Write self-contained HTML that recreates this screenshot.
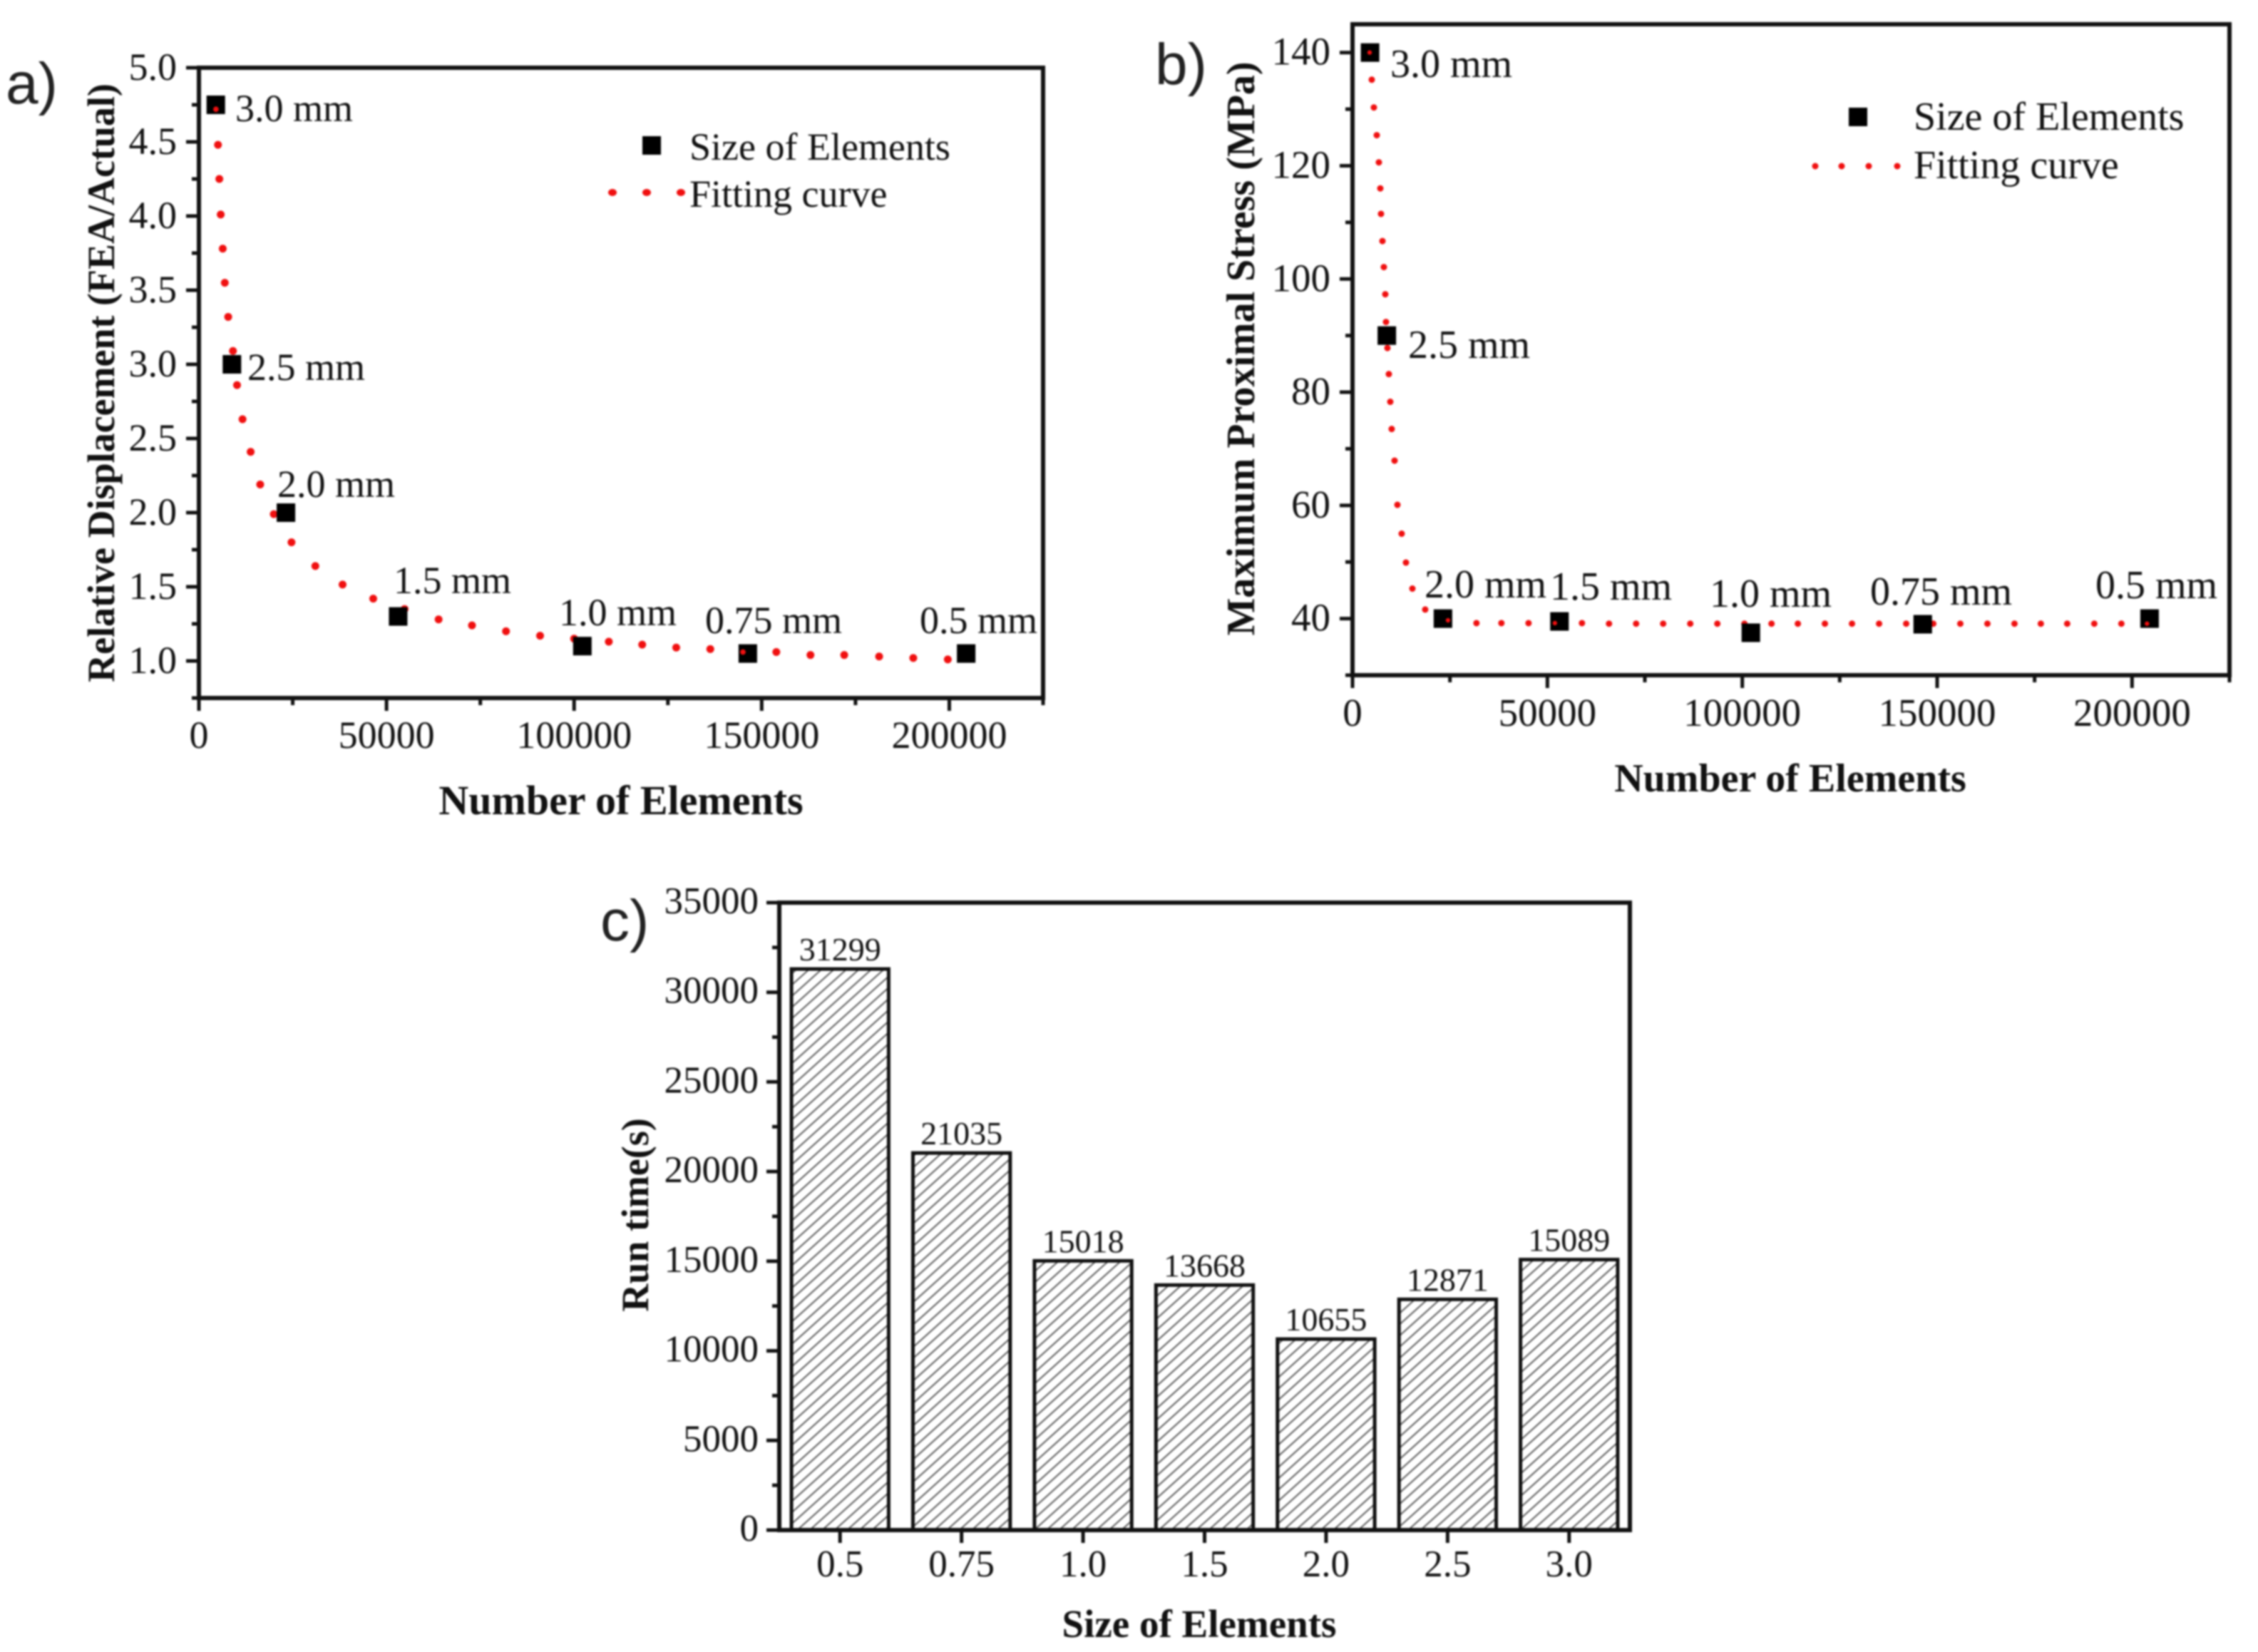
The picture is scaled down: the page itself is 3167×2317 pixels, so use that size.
<!DOCTYPE html>
<html lang="en">
<head>
<meta charset="utf-8">
<title>Mesh convergence charts</title>
<style>
html,body{margin:0;padding:0;background:#fff;width:3167px;height:2317px;overflow:hidden}
svg{display:block;filter:blur(1.2px)}
text{font-family:"Liberation Serif",serif;fill:#111}
.letter{font-family:"Liberation Sans",sans-serif;font-size:82px;fill:#222}
.tick{font-size:54px}
.title{font-size:58px;font-weight:bold;text-anchor:middle}
.ytitle{font-size:54px;font-weight:bold;text-anchor:middle}
.ann{font-size:54px}
.val{font-size:46px;text-anchor:middle}
#panelB .tick{font-size:55px}
#panelB .ann{font-size:56px}
#panelB .title{font-size:56px}
#panelB .ytitle{font-size:56px}
#panelC .tick{font-size:53px}
#panelC .title{font-size:55px}
</style>
</head>
<body>
<svg id="figure" xmlns="http://www.w3.org/2000/svg" width="3167" height="2317" viewBox="0 0 3167 2317">
<defs>
<pattern id="hatch" patternUnits="userSpaceOnUse" width="11.7" height="11.7" patternTransform="rotate(-42)">
<rect width="11.7" height="11.7" fill="#fff"/>
<line x1="0" y1="3" x2="11.7" y2="3" stroke="#5a5a5a" stroke-width="2"/>
</pattern>
</defs>
<text class="letter" x="8" y="145">a)</text>
<text class="letter" x="1620" y="118">b)</text>
<text class="letter" x="842" y="1319">c)</text>
<g id="panelA"></g>
<g id="panelB"></g>
<g id="panelC"></g>
</svg>
<script>
// ---------- data: shared ----------
const elementCounts = [4500, 8800, 23200, 53100, 102200, 146300, 204500];
const sizeLabels = ["3.0 mm", "2.5 mm", "2.0 mm", "1.5 mm", "1.0 mm", "0.75 mm", "0.5 mm"];
const xTickValues = [0, 50000, 100000, 150000, 200000];
const xMinorTickValues = [25000, 75000, 125000, 175000, 225000];

// ---------- data: panel a ----------
const displacementValues = [4.75, 3.0, 2.0, 1.3, 1.1, 1.05, 1.05];
const fitAx = [4540, 5080, 5440, 5810, 6350, 6900, 7800, 9070, 10160, 11620, 13790, 16330, 19960, 24680, 31030, 38290, 46460, 54810, 63880, 72780, 81850, 90930, 100000, 109250, 118150, 127220, 136300, 145000, 153900, 163000, 172000, 181300, 190400, 199600];
const fitAy = [4.72, 4.48, 4.25, 4.01, 3.78, 3.55, 3.32, 3.09, 2.86, 2.63, 2.41, 2.19, 1.99, 1.80, 1.64, 1.515, 1.42, 1.35, 1.28, 1.24, 1.20, 1.17, 1.15, 1.13, 1.11, 1.09, 1.08, 1.06, 1.06, 1.04, 1.04, 1.03, 1.02, 1.01];
const yTicksA = ["1.0", "1.5", "2.0", "2.5", "3.0", "3.5", "4.0", "4.5", "5.0"];
const yMinorTicksA = [0.75, 1.25, 1.75, 2.25, 2.75, 3.25, 3.75, 4.25, 4.75];

// ---------- data: panel b ----------
const stressValues = [140, 90, 40, 39.5, 37.5, 39, 40];
const fitBx = [4390, 4940, 5480, 6220, 6760, 7130, 7310, 7680, 8040, 8410, 8590, 8960, 9320, 9690, 10050, 10790, 11520, 12610, 13710, 15360, 18650, 24500, 31800, 38200, 45160, 51920, 58870, 65810, 72760, 79700, 86650, 93600, 100550, 107500, 114260, 121200, 128150, 135100, 142050, 149000, 155940, 162890, 169840, 176600, 183360, 190310, 197260, 203840];
const fitBy = [140, 135.2, 130.3, 125.4, 120.6, 116, 111.5, 106.7, 102.1, 97.3, 92.4, 87.8, 83.2, 78.3, 73.5, 67.9, 60.1, 55, 49.9, 45.3, 41.6, 39.7, 39.2, 39.2, 39.2, 39.2, 39.2, 39.1, 39.1, 39.1, 39.1, 39.1, 39.1, 39.1, 39.1, 39.1, 39.1, 39.1, 39.1, 39.1, 39.1, 39.1, 39.1, 39.1, 39.1, 39.1, 39.1, 39.1];
const yTicksB = [40, 60, 80, 100, 120, 140];
const yMinorTicksB = [30, 50, 70, 90, 110, 130];

// ---------- data: panel c ----------
const barCategories = ["0.5", "0.75", "1.0", "1.5", "2.0", "2.5", "3.0"];
const runTimes = [31299, 21035, 15018, 13668, 10655, 12871, 15089];
const yTicksC = [0, 5000, 10000, 15000, 20000, 25000, 30000, 35000];
const yMinorTicksC = [2500, 7500, 12500, 17500, 22500, 27500, 32500];

// ---------- drawing ----------
const NS = "http://www.w3.org/2000/svg";
function mk(tag, parent, attrs, txt) {
  const el = document.createElementNS(NS, tag);
  for (const k in attrs) el.setAttribute(k, attrs[k]);
  if (txt !== undefined) el.textContent = txt;
  parent.appendChild(el);
  return el;
}
function linear(d0, d1, r0, r1) {
  return v => r0 + (v - d0) / (d1 - d0) * (r1 - r0);
}
function drawFrame(g, L, T, R, B) {
  const el = mk("rect", g, {x: L, y: T, width: R - L, height: B - T, fill: "none", stroke: "#111", "stroke-width": 6});
  
  
}
function xTick(g, x, B, len) {
  const el = mk("line", g, {x1: x, x2: x, y1: B, y2: B + len, stroke: "#111", "stroke-width": 5});
  
  
}
function yTick(g, y, L, len) {
  const el = mk("line", g, {x1: L - len, x2: L, y1: y, y2: y, stroke: "#111", "stroke-width": 5});
  
  
}
function xLabel(g, x, y, s) {
  const el = mk("text", g, {x: x, y: y, class: "tick", "text-anchor": "middle"}, s);
  
  
}
function yLabel(g, x, y, s) {
  const el = mk("text", g, {x: x, y: y + 17, class: "tick", "text-anchor": "end"}, s);
  
  
}
function axisTitles(g, xt, xx, xy, yt, yx, yy) {
  const a = mk("text", g, {x: xx, y: xy, class: "title"}, xt);
  
  
  const b = mk("text", g, {x: 0, y: 0, class: "ytitle", transform: "translate(" + yx + " " + yy + ") rotate(-90)"}, yt);
  
  
}
function drawScatter(g, xs, ys, fx, fy, fitX, fitY, r, rx, labelPos) {
  fitX.forEach((v, i) => {
    const c = mk("ellipse", g, {cx: fx(v), cy: fy(fitY[i]), rx: rx, ry: r, fill: "#f01010"});
    
    
  });
  xs.forEach((v, i) => {
    const s = mk("rect", g, {x: fx(v) - 13, y: fy(ys[i]) - 13, width: 26, height: 26, fill: "#000"});
    
    
  });
  // fit dots that fall on a square show on top of it
  fitX.forEach((v, i) => {
    if (xs.some((e, j) => Math.abs(fx(e) - fx(v)) < 9 && Math.abs(fy(ys[j]) - fy(fitY[i])) < 9)) {
      const c = mk("ellipse", g, {cx: fx(v), cy: fy(fitY[i]), rx: rx * 0.7, ry: r * 0.7, fill: "#f01010"});
      
      
    }
  });
  sizeLabels.forEach((s, i) => {
    const t = mk("text", g, {x: labelPos[i][0], y: labelPos[i][1] + 18, class: "ann"}, s);
    
    
  });
}
function drawLegend(g, sq, dots, dotY, tx, ty1, ty2, r, rx) {
  const s = mk("rect", g, {x: sq[0] - 13, y: sq[1] - 13, width: 26, height: 26, fill: "#000"});
  
  
  const a = mk("text", g, {x: tx, y: ty1 + 18, class: "ann"}, "Size of Elements");
  
  
  dots.forEach(d => {
    const c = mk("ellipse", g, {cx: d, cy: dotY, rx: rx, ry: r, fill: "#f01010"});
    
    
  });
  const b = mk("text", g, {x: tx, y: ty2 + 18, class: "ann"}, "Fitting curve");
  
  
}

// Panel a
(function () {
  const g = document.getElementById("panelA");
  const L = 279, R = 1463, T = 95, B = 979;
  const fx = linear(0, 225000, L, R), fy = linear(0.75, 5, B, T);
  xTickValues.forEach(v => { xTick(g, fx(v), B, 18); xLabel(g, fx(v), 1049, String(v)); });
  xMinorTickValues.forEach(v => xTick(g, fx(v), B, 10));
  yTicksA.forEach(v => { yTick(g, fy(+v), L, 18); yLabel(g, 248, fy(+v), v); });
  yMinorTicksA.forEach(v => yTick(g, fy(v), L, 10));
  drawFrame(g, L, T, R, B);
  drawScatter(g, elementCounts, displacementValues, fx, fy, fitAx, fitAy, 5.5, 5.5,
    [[330, 152], [347, 515], [389, 679], [552, 814], [784, 859], [989, 870], [1290, 870]]);
  drawLegend(g, [914, 204], [859, 907, 955], 270, 967, 206, 272, 5, 6);
  axisTitles(g, "Number of Elements", 871, 1142, "Relative Displacement (FEA/Actual)", 160, 537);
})();

// Panel b
(function () {
  const g = document.getElementById("panelB");
  const L = 1897, R = 3127, T = 34, B = 947;
  const fx = linear(0, 225000, L, R), fy = linear(30, 145, B, T);
  xTickValues.forEach(v => { xTick(g, fx(v), B, 18); xLabel(g, fx(v), 1018, String(v)); });
  xMinorTickValues.forEach(v => xTick(g, fx(v), B, 10));
  yTicksB.forEach(v => { yTick(g, fy(v), L, 18); yLabel(g, 1866, fy(v), String(v)); });
  yMinorTicksB.forEach(v => yTick(g, fy(v), L, 10));
  drawFrame(g, L, T, R, B);
  drawScatter(g, elementCounts, stressValues, fx, fy, fitBx, fitBy, 4.5, 4.5,
    [[1950, 90], [1975, 484], [1998, 820], [2174, 823], [2398, 833], [2623, 830], [2939, 821]]);
  drawLegend(g, [2606, 164], [2546, 2583, 2621, 2661], 233, 2684, 164, 232, 4.5, 4.5);
  axisTitles(g, "Number of Elements", 2511, 1110, "Maximum Proximal Stress (MPa)", 1759, 489);
})();

// Panel c
(function () {
  const g = document.getElementById("panelC");
  const L = 1093, R = 2286, T = 1266, B = 2146;
  const band = (R - L) / barCategories.length;
  const fx = i => L + band * (i + 0.5);
  const fy = linear(0, 35000, B, T);
  barCategories.forEach((c, i) => {
    xTick(g, fx(i), B, 18);
    xLabel(g, fx(i), 2211, c);
    const w = band * 0.8;
    const bar = mk("rect", g, {x: fx(i) - w / 2, y: fy(runTimes[i]), width: w, height: B - fy(runTimes[i]), fill: "url(#hatch)", stroke: "#111", "stroke-width": 5});
    
    
    const t = mk("text", g, {x: fx(i), y: fy(runTimes[i]) - 12, class: "val"}, String(runTimes[i]));
    
    
  });
  yTicksC.forEach(v => { yTick(g, fy(v), L, 18); yLabel(g, 1064, fy(v) - 2, String(v)); });
  yMinorTicksC.forEach(v => yTick(g, fy(v), L, 10));
  drawFrame(g, L, T, R, B);
  axisTitles(g, "Size of Elements", 1682, 2296, "Run time(s)", 909, 1704);
})();
</script>
</body>
</html>
